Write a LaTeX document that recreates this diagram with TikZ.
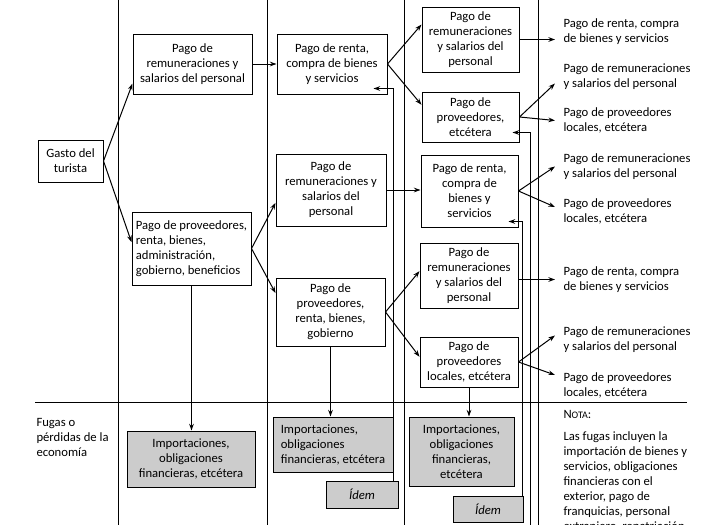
\documentclass[tikz,border=0pt]{standalone}
\usepackage{fontspec}
\setmainfont{Carlito}
\usetikzlibrary{arrows.meta,calc}

\tikzset{every picture/.style={line width=0.75pt}}
\tikzset{
  caja/.style={draw, align=center, inner sep=1.5pt},
  fuga/.style={caja, fill=black!20},
  salida/.style={anchor=west, align=left, inner xsep=6pt, inner ysep=0pt},
  flecha/.style={-{Stealth[length=5pt,width=3.5pt]}}
}

\begin{document}
\begin{tikzpicture}[x=0.75pt,y=0.75pt,yscale=-1,xscale=1,font=\fontsize{9.5}{11.25}\selectfont]
	\path[use as bounding box] (0,0) rectangle (725,525);
	%Straight Lines: columnas
	\draw (118,0) -- (118,525) ;
	\draw (267,0) -- (267,525) ;
	\draw (404,0) -- (404,525) ;
	\draw (538,0) -- (538,525) ;
	\draw (35,402) -- (687,402) ;
	
	%Shape: Rectangle
	\node [caja, minimum width=48.75pt, minimum height=31.5pt] (gasto) at (70.5,161) {Gasto del\\turista};
	%Shape: Rectangle
	\node [caja, minimum width=89.25pt, minimum height=45pt] (remA) at (192.5,64) {Pago de\\remuneraciones y\\salarios del personal};
	%Shape: Rectangle
	\node [caja, align=left, minimum width=89.25pt, minimum height=54.75pt] (provB) at (191.5,248.5) {Pago de proveedores,\\renta, bienes,\\administración,\\gobierno, beneficios};
	%Shape: Rectangle
	\node [caja, minimum width=82.5pt, minimum height=45pt] (rentaC) at (332,64) {Pago de renta,\\compra de bienes\\y servicios};
	%Shape: Rectangle
	\node [caja, minimum width=82.5pt, minimum height=54pt] (remD) at (331,190) {Pago de\\remuneraciones y\\salarios del\\personal};
	%Shape: Rectangle
	\node [caja, minimum width=81.75pt, minimum height=51pt] (provE) at (330.5,312) {Pago de\\proveedores,\\renta, bienes,\\gobierno};
	%Shape: Rectangle
	\node [caja, minimum width=72.75pt, minimum height=48.75pt] (remF) at (470.5,39.5) {Pago de\\remuneraciones\\y salarios del\\personal};
	%Shape: Rectangle
	\node [caja, minimum width=72.75pt, minimum height=37.5pt] (provG) at (470.5,117) {Pago de\\proveedores,\\etcétera};
	%Shape: Rectangle
	\node [caja, minimum width=72.75pt, minimum height=54pt] (rentaH) at (469.5,191) {Pago de renta,\\compra de\\bienes y\\servicios};
	%Shape: Rectangle
	\node [caja, minimum width=73.5pt, minimum height=48.75pt] (remI) at (469,275.5) {Pago de\\remuneraciones\\y salarios del\\personal};
	%Shape: Rectangle
	\node [caja, minimum width=73.5pt, minimum height=37.5pt] (provJ) at (469,362) {Pago de\\proveedores\\locales, etcétera};
	
	%Shape: Rectangle (fugas)
	\node [fuga, minimum width=96pt, minimum height=42pt] (fugaA) at (191,459) {Importaciones,\\obligaciones\\financieras, etcétera};
	%Shape: Rectangle (fugas)
	\node [fuga, align=left, minimum width=90pt, minimum height=41.25pt] (fugaB) at (333,444.5) {Importaciones,\\obligaciones\\financieras, etcétera};
	%Shape: Rectangle (fugas)
	\node [fuga, minimum width=78.75pt, minimum height=51.75pt] (fugaC) at (461.5,451.5) {Importaciones,\\obligaciones\\financieras,\\etcétera};
	%Shape: Rectangle (idem)
	\node [fuga, minimum width=54pt, minimum height=20.25pt] (idemB) at (362,494.5) {\textit{Ídem}};
	%Shape: Rectangle (idem)
	\node [fuga, minimum width=52.5pt, minimum height=19.5pt] (idemC) at (488,509) {\textit{Ídem}};
	
	% Text Node
	\node [salida] (sal1) at (555,32) {Pago de renta, compra\\de bienes y servicios};
	% Text Node
	\node [salida] (sal2) at (555,76.5) {Pago de remuneraciones\\y salarios del personal};
	% Text Node
	\node [salida] (sal3) at (555,120.5) {Pago de proveedores\\locales, etcétera};
	% Text Node
	\node [salida] (sal4) at (555,166.5) {Pago de remuneraciones\\y salarios del personal};
	% Text Node
	\node [salida] (sal5) at (555,211) {Pago de proveedores\\locales, etcétera};
	% Text Node
	\node [salida] (sal6) at (555,279.5) {Pago de renta, compra\\de bienes y servicios};
	% Text Node
	\node [salida] (sal7) at (555,339.5) {Pago de remuneraciones\\y salarios del personal};
	% Text Node
	\node [salida] (sal8) at (555,385) {Pago de proveedores\\locales, etcétera};
	% Text Node
	\node [anchor=west, align=left, inner sep=0pt] (fugas) at (36,437) {Fugas o\\pérdidas de la\\economía};
	% Text Node
	\node [salida] (nota) at (555,471.5) {N{\fontsize{7.5}{9}\selectfont OTA}:\\[5pt]Las fugas incluyen la\\importación de bienes y\\servicios, obligaciones\\financieras con el\\exterior, pago de\\franquicias, personal\\extranjero, repatriación};
	
	%Straight Lines
	\draw [flecha] (gasto.east) -- (remA.198) ;
	\draw [flecha] (gasto.east) -- (provB.174) ;
	\draw [flecha] (remA.east) -- (rentaC.west) ;
	\draw [flecha] (rentaC.east) -- (remF.163) ;
	\draw [flecha] (rentaC.east) -- (provG.166) ;
	\draw [flecha] (provB.east) -- (remD.193) ;
	\draw [flecha] (provB.east) -- (provE.161) ;
	\draw [flecha] (remD.east) -- (remD.east -| rentaH.west) ;
	\draw [flecha] (provE.east) -- (remI.175) ;
	\draw [flecha] (provE.east) -- (provJ.174) ;
	\draw [flecha] (remF.east) -- (remF.east -| sal1.west) ;
	\draw [flecha] (provG.east) -- ($(sal2.west)+(0,7)$) ;
	\draw [flecha] (provG.east) -- (sal3.west) ;
	\draw [flecha] (rentaH.east) -- (sal4.west) ;
	\draw [flecha] (rentaH.east) -- ($(sal5.west)+(0,-4)$) ;
	\draw [flecha] (remI.east |- sal6.west) -- (sal6.west) ;
	\draw [flecha] (provJ.east) -- ($(sal7.west)+(0,-4)$) ;
	\draw [flecha] (provJ.east) -- ($(sal8.west)+(0,-10)$) ;
	\draw [flecha] (provB.south) -- (provB.south |- fugaA.north) ;
	\draw [flecha] (provE.south) -- (provE.south |- fugaB.north) ;
	\draw [flecha] (provJ.south) -- (provJ.south |- fugaC.north) ;
	
	%Straight Lines: retornos
	\coordinate (retC) at ($(rentaC.south east)+(-14,-6)$);
	\coordinate (retG) at ($(provG.south east)+(-7,-10)$);
	\coordinate (retH) at ($(rentaH.south east)+(-10,-6)$);
	\coordinate (bajoG) at (530,530);
	\draw [flecha] ($(idemB.north east)+(-5,0)$) |- (retC) ;
	\draw [flecha] ($(idemC.north east)+(-1,0)$) |- (retH) ;
	\draw [flecha] (bajoG) |- (retG) ;
\end{tikzpicture}
\end{document}
